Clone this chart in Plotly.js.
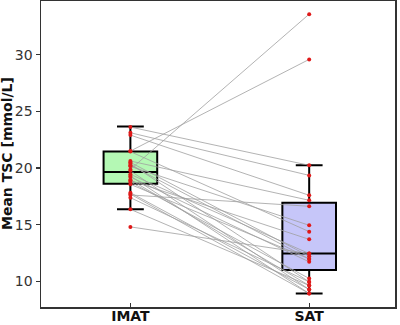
<!DOCTYPE html>
<html>
<head>
<meta charset="utf-8">
<script src="https://cdn.plot.ly/plotly-3.0.1.min.js"></script>
<style>
  html, body { margin: 0; padding: 0; background: #fff; }
  #chart { width: 400px; height: 325px; }
</style>
</head>
<body>
<div id="chart"></div>
<script>
// Group labels on the x axis
const groups = ['IMAT', 'SAT'];

// Paired per-subject mean TSC values [mmol/L]
const imat = [23.62, 23.12, 22.91, 21.50, 21.45, 20.62, 20.50, 20.38, 20.25, 20.15,
              19.88, 19.75, 19.44, 19.30, 19.21, 18.97, 18.90, 18.77, 18.56, 17.82,
              17.70, 17.62, 17.38, 16.35, 14.80];
const sat  = [20.24, 19.35, 17.59, 29.60, 14.38, 17.15, 12.20, 9.94, 11.97, 14.94,
              33.60, 9.27, 12.44, 8.91, 11.71, 9.62, 13.70, 10.24, 11.97, 9.27,
              8.91, 16.62, 9.94, 9.62, 12.44];

// Box summary statistics per group
const q1         = [18.62, 11.00];
const medians    = [19.65, 12.44];
const q3         = [21.47, 16.94];
const lowerFence = [16.35, 8.91];
const upperFence = [23.68, 20.24];

const boxFill = ['#b4f8b4', '#c6c6f9'];

const traces = [];

// one box per group, centred on the group's category index
groups.forEach((g, i) => {
  traces.push({
    type: 'box',
    x: [i],
    q1: [q1[i]],
    median: [medians[i]],
    q3: [q3[i]],
    lowerfence: [lowerFence[i]],
    upperfence: [upperFence[i]],
    width: 0.3,
    whiskerwidth: 0.5,
    fillcolor: boxFill[i],
    line: { color: '#000', width: 2 },
    boxpoints: false,
    hoverinfo: 'skip',
    showlegend: false
  });
});

// connecting lines between each subject's two measurements
const lx = [], ly = [];
imat.forEach((v, k) => {
  lx.push(0, 1, null);
  ly.push(v, sat[k], null);
});
traces.push({
  type: 'scatter', mode: 'lines',
  x: lx, y: ly,
  line: { color: '#a0a0a0', width: 0.8 },
  hoverinfo: 'skip', showlegend: false
});

// individual measurements
traces.push({
  type: 'scatter', mode: 'markers',
  x: imat.map(() => 0).concat(sat.map(() => 1)),
  y: imat.concat(sat),
  marker: { color: '#e01818', size: 4, line: { width: 0 } },
  hoverinfo: 'skip', showlegend: false
});

const layout = {
  width: 400, height: 325,
  margin: { l: 41, r: 5, t: 1, b: 18 },
  paper_bgcolor: '#fff', plot_bgcolor: '#fff',
  font: { family: 'DejaVu Sans, Verdana, sans-serif', size: 14, color: '#333' },
  xaxis: {
    range: [-0.5, 1.48],
    tickvals: [0, 1],
    ticktext: groups.map(g => '<b>' + g + '</b>'),
    tickfont: { size: 14, color: '#111' },
    ticklabelstandoff: -4,
    ticks: 'inside', ticklen: 4, tickwidth: 1.2, tickcolor: '#333',
    showline: true, linecolor: '#333', linewidth: 1.5, mirror: true,
    showgrid: false, zeroline: false, automargin: false
  },
  yaxis: {
    range: [7.72, 34.76],
    tickvals: [10, 15, 20, 25, 30],
    ticks: 'outside', ticklen: 4, tickwidth: 1.2, tickcolor: '#333',
    tickfont: { size: 14, color: '#333' },
    showline: true, linecolor: '#333', linewidth: 1.5, mirror: true,
    showgrid: false, zeroline: false, automargin: false
  },
  annotations: [{
    text: '<b>Mean TSC [mmol/L]</b>',
    xref: 'paper', yref: 'paper',
    x: 0, y: 0.5, xanchor: 'center', yanchor: 'middle',
    xshift: -34, textangle: -90, showarrow: false,
    font: { size: 14, color: '#111' }
  }]
};

Plotly.newPlot('chart', traces, layout, { staticPlot: true, displayModeBar: false });
</script>
</body>
</html>
